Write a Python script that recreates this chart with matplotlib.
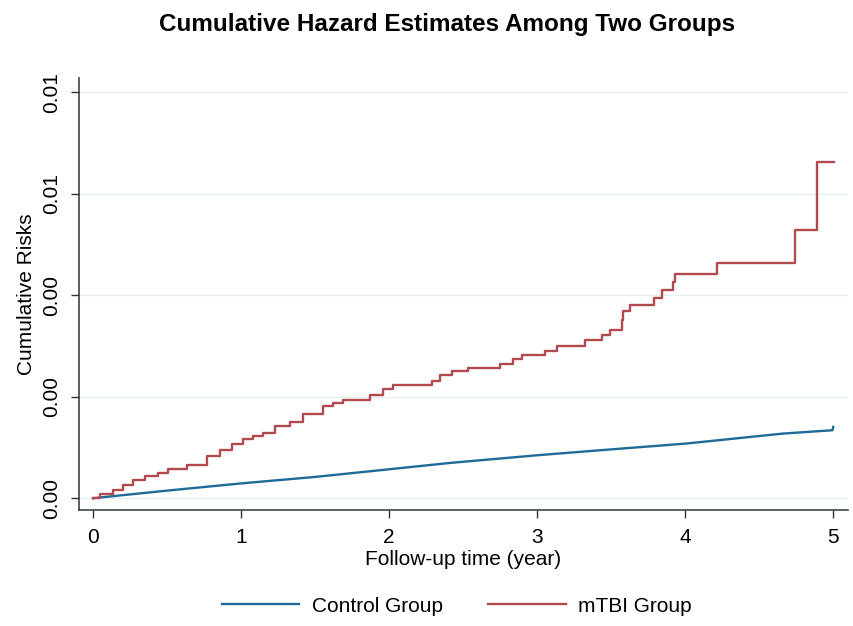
import matplotlib
matplotlib.use('Agg')
import matplotlib.pyplot as plt

plt.rcParams['font.family'] = ['Liberation Sans', 'DejaVu Sans']

# mTBI group: step times (years) and cumulative hazard after each step
mtbi_time = [0.0, 0.047, 0.137, 0.205, 0.272, 0.351, 0.441, 0.509, 0.633, 0.768,
             0.858, 0.937, 1.016, 1.083, 1.151, 1.230, 1.331, 1.421, 1.556, 1.624,
             1.691, 1.872, 1.961, 2.029, 2.289, 2.345, 2.424, 2.536, 2.750, 2.840,
             2.897, 3.054, 3.133, 3.324, 3.437, 3.493, 3.572, 3.583, 3.628, 3.791,
             3.843, 3.917, 3.932, 4.214, 4.743, 4.889, 5.002]
mtbi_risk = [0.0, 0.000093, 0.000171, 0.000256, 0.000355, 0.000433, 0.000499, 0.000585,
             0.000650, 0.000828, 0.000946, 0.001078, 0.001176, 0.001222, 0.001287,
             0.001419, 0.001503, 0.001669, 0.001819, 0.001878, 0.001945, 0.002030,
             0.002161, 0.002227, 0.002311, 0.002424, 0.002508, 0.002567, 0.002654,
             0.002753, 0.002818, 0.002902, 0.002995, 0.003113, 0.003212, 0.003324,
             0.003507, 0.003691, 0.003817, 0.003955, 0.004098, 0.004262, 0.004428,
             0.004636, 0.005281, 0.006627, 0.006627]

# control group: dense steps, read as a smooth curve
ctrl_time = [0.0, 0.5, 0.993, 1.5, 1.939, 2.412, 3.0, 3.426, 4.007, 4.662, 4.995, 5.0]
ctrl_risk = [0.0, 0.000150, 0.000290, 0.000420, 0.000552, 0.000696, 0.000847,
             0.000946, 0.001078, 0.001275, 0.001340, 0.001405]

yticks = [0.0, 0.002, 0.004, 0.006, 0.008]
xticks = [0, 1, 2, 3, 4, 5]

blue = '#1f6b98'
red = '#b2494f'

fig = plt.figure(figsize=(8.54, 6.26), dpi=100)
ax = fig.add_axes([0.0925, 0.185, 0.9005, 0.69])

ax.plot(ctrl_time, ctrl_risk, color=blue, lw=1.7, label='Control Group')
ax.step(mtbi_time, mtbi_risk, where='post', color=red, lw=1.7, label='mTBI Group')

ax.set_xlim(-0.095, 5.1)
ax.set_ylim(-0.000236, 0.00828)
ax.set_xticks(xticks)
ax.set_yticks(yticks)
ax.set_yticklabels(['%3.2f' % v for v in yticks], rotation=90, va='center')
ax.tick_params(axis='both', labelsize=15, colors='#333333', length=6,
               width=1, labelcolor='black')
ax.tick_params(axis='x', pad=7)
ax.tick_params(axis='y', pad=7)
ax.grid(axis='y', color='#e6efef', lw=1)
ax.set_axisbelow(True)

for s in ['top', 'right']:
    ax.spines[s].set_visible(False)
for s in ['left', 'bottom']:
    ax.spines[s].set_color('#3a4448')
    ax.spines[s].set_linewidth(1.2)

ax.set_xlabel('Follow-up time (year)', fontsize=15, labelpad=2)
ax.set_ylabel('Cumulative Risks', fontsize=15, labelpad=4)

fig.suptitle('Cumulative Hazard Estimates Among Two Groups', fontsize=17.5,
             fontweight='bold', y=0.98, x=0.524)

fig.legend(loc='center', bbox_to_anchor=(0.535, 1 - 606 / 626), ncol=2,
           frameon=False, fontsize=15, handlelength=3.7, handletextpad=0.6,
           columnspacing=2.2)

fig.savefig('out.png', dpi=100, facecolor='white')
